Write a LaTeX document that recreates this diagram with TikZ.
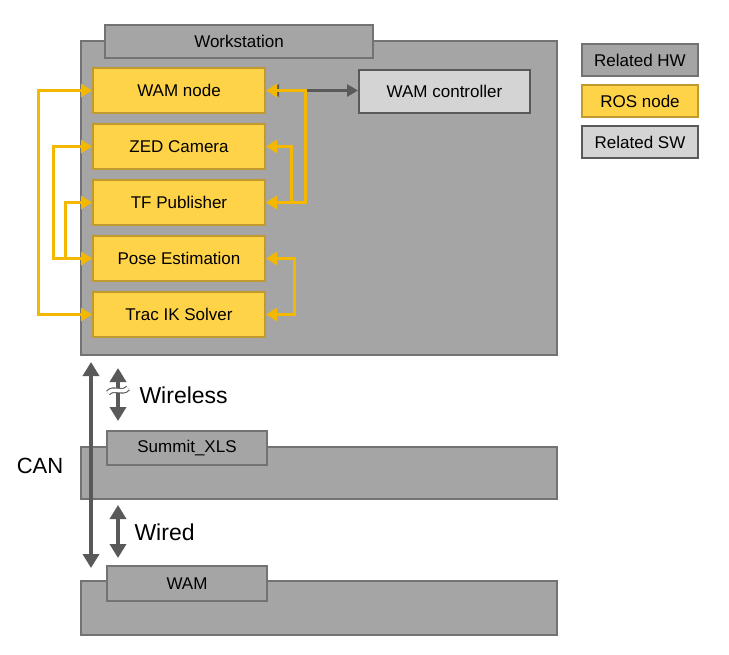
\documentclass[tikz,border=0pt]{standalone}
\usepackage{fontspec}
\setmainfont{Liberation Sans}
\usetikzlibrary{arrows.meta}
\definecolor{hwfill}{HTML}{A5A5A5}
\definecolor{hwdraw}{HTML}{737373}
\definecolor{rosfill}{HTML}{FFD348}
\definecolor{rosdraw}{HTML}{C09A2E}
\definecolor{swfill}{HTML}{D4D4D4}
\definecolor{swdraw}{HTML}{595959}
\definecolor{yarrow}{HTML}{F5B800}
\definecolor{darrow}{HTML}{595959}
\tikzset{
  txt/.style={font=\fontsize{17}{20}\selectfont, text=black},
  hwbox/.style={draw=hwdraw, fill=hwfill, line width=2pt, inner sep=0pt},
  rosbox/.style={draw=rosdraw, fill=rosfill, line width=2pt, inner sep=0pt, minimum width=172pt, minimum height=45pt, txt},
  swbox/.style={draw=swdraw, fill=swfill, line width=2pt, inner sep=0pt, txt},
  ya/.style={draw=yarrow, line width=3pt, {Triangle[length=11pt,width=13pt]}-{Triangle[length=11pt,width=13pt]}},
  da/.style={draw=darrow, line width=4pt, {Triangle[length=14pt,width=16pt]}-{Triangle[length=14pt,width=16pt]}},
  dthin/.style={draw=darrow, line width=3pt, {Triangle[length=11pt,width=12pt]}-{Triangle[length=11pt,width=12pt]}},
}
\begin{document}
\begin{tikzpicture}[x=1pt,y=-1pt]
\useasboundingbox (0,0) rectangle (729,654);
% workstation
\node[hwbox, anchor=north west, minimum width=476pt, minimum height=314pt] (ws) at (80,40) {};
\node[hwbox, txt, anchor=north west, minimum width=268pt, minimum height=33pt] (wslab) at (104,24) {Workstation};
% legend
\node[hwbox, txt, anchor=north west, minimum width=116pt, minimum height=32pt] (lhw) at (581,43) {Related HW};
\node[rosbox, anchor=north west, minimum width=116pt, minimum height=32pt] (lros) at (581,84) {ROS node};
\node[swbox, anchor=north west, minimum width=116pt, minimum height=32pt] (lsw) at (581,125) {Related SW};
% ROS nodes
\node[rosbox, anchor=north west] (wam) at (92,67) {WAM node};
\node[rosbox, anchor=north west] (zed) at (92,123) {ZED Camera};
\node[rosbox, anchor=north west] (tf) at (92,179) {TF Publisher};
\node[rosbox, anchor=north west] (pose) at (92,235) {Pose Estimation};
\node[rosbox, anchor=north west] (trac) at (92,291) {Trac IK Solver};
% WAM controller
\node[swbox, anchor=north west, minimum width=171pt, minimum height=43pt] (ctrl) at (358,69) {WAM controller};
\draw[dthin] ([xshift=2pt]wam.east) -- (ctrl.west |- wam.east);
% yellow connectors left
\draw[ya] (wam.west) -- ++(-54,0) |- (trac.west);
\draw[ya] (zed.west) -- ++(-39,0) |- (pose.west);
\draw[ya] (tf.west) -- ++(-27,0) |- (pose.west);
% yellow connectors right
\draw[ya] (wam.east) -- ++(39,0) |- (tf.east);
\draw[ya] (zed.east) -- ++(25,0) |- (tf.east);
\draw[ya] (pose.east) -- ++(28,0) |- (trac.east);
% Summit
\node[hwbox, anchor=north west, minimum width=476pt, minimum height=52pt] (sum) at (80,446) {};
\node[hwbox, txt, anchor=north west, minimum width=160pt, minimum height=34pt] (sumlab) at (106,430) {Summit\_XLS};
% WAM
\node[hwbox, anchor=north west, minimum width=476pt, minimum height=54pt] (wamhw) at (80,580) {};
\node[hwbox, txt, anchor=north west, minimum width=160pt, minimum height=35pt] (wamlab) at (106,565) {WAM};
% CAN
\coordinate (cantop) at (91,362);
\coordinate (canbot) at (91,568);
\draw[da] (cantop) -- (canbot);
\node[txt, font=\fontsize{22}{26}\selectfont, anchor=center] (can) at (40,466) {CAN};
% wireless
\coordinate (wltop) at (118,368);
\coordinate (wlbot) at (118,421);
\draw[da] (wltop) -- (wlbot);
\draw[draw=darrow, line width=1.1pt, double=white, double distance=3.5pt] (108,393) .. controls (114,386) and (122,395) .. (128,388);
\node[txt, font=\fontsize{23}{27}\selectfont, anchor=west] (wl) at (136,395) {Wireless};
% wired
\coordinate (wdtop) at (118,505);
\coordinate (wdbot) at (118,558);
\draw[da] (wdtop) -- (wdbot);
\node[txt, font=\fontsize{23}{27}\selectfont, anchor=west] (wd) at (131,532) {Wired};
\end{tikzpicture}
\end{document}
